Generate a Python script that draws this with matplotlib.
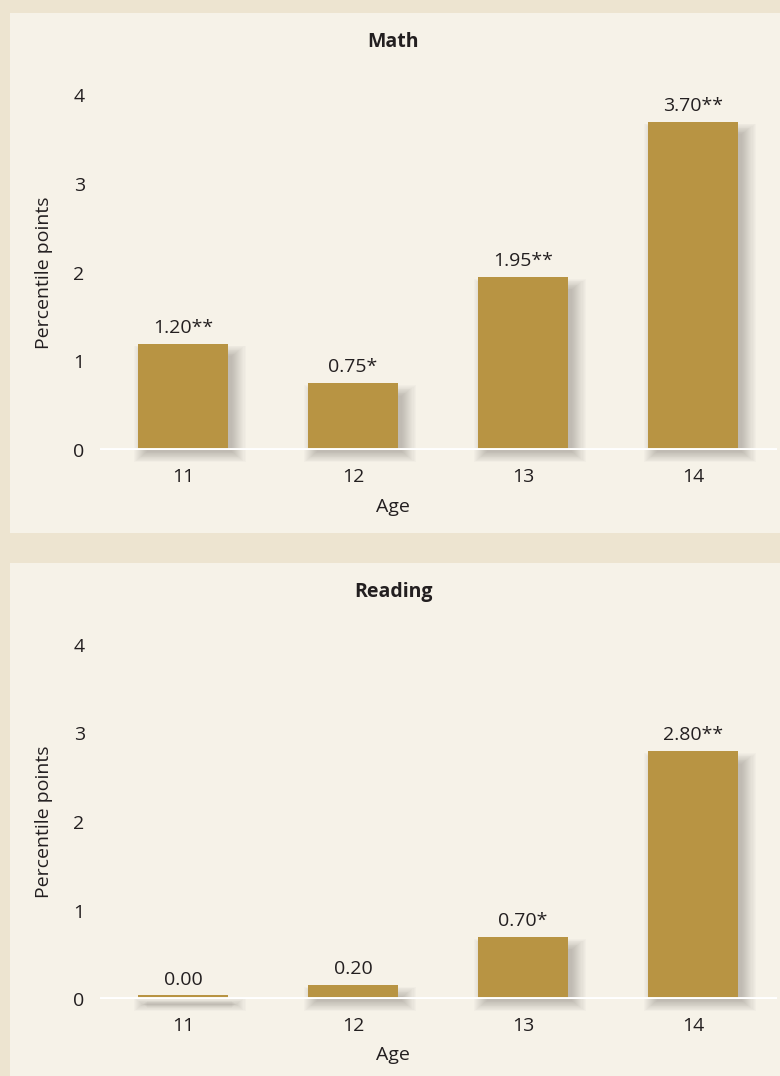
import matplotlib.pyplot as plt
from matplotlib.patches import Rectangle
import numpy as np

plt.rcParams['font.family'] = ['Open Sans', 'DejaVu Sans']

# data
ages = ['11', '12', '13', '14']
math_values = [1.20, 0.75, 1.95, 3.70]
math_labels = ['1.20**', '0.75*', '1.95**', '3.70**']
reading_values = [0.04, 0.16, 0.70, 2.80]   # bar heights as drawn
reading_labels = ['0.00', '0.20', '0.70*', '2.80**']
yticks = [0, 1, 2, 3, 4]

outer_bg = '#ede4d0'
panel_bg = '#f6f2e8'
bar_color = '#b89443'
text_color = '#231f20'

W, H = 780, 1076
fig = plt.figure(figsize=(W / 100, H / 100), dpi=100)
fig.patch.set_facecolor(outer_bg)


def px_box(x0, y0, x1, y1):
    # pixel box (top-left origin) -> figure fraction rect
    return [x0 / W, 1 - y1 / H, (x1 - x0) / W, (y1 - y0) / H]


# cream panels behind each chart
for y0, y1 in [(13, 533), (563, 1080)]:
    l, b, w, h = px_box(10, y0, 790, y1)
    fig.patches.append(Rectangle((l, b), w, h, transform=fig.transFigure,
                                 facecolor=panel_bg, edgecolor='none', zorder=-5))


def draw_panel(title, values, labels, zero_px, top_px, title_px, age_px):
    ax = fig.add_axes(px_box(100, top_px, 777, zero_px))
    ax.set_facecolor('none')
    x = np.arange(len(ages))
    heights = np.array(values)

    # soft shadow to the right of / below each bar
    for k in range(14):
        gx = 0.006 * k
        gy = 0.009 * k
        ax.bar(x + 0.04, heights - 0.12 + 2 * gy, width=0.50 + 2 * gx,
               bottom=-0.02 - gy, color='#4a4540', alpha=0.022,
               zorder=1, clip_on=False, linewidth=0)

    ax.bar(x, heights, width=0.53, color=bar_color, zorder=3, linewidth=0)
    ax.axhline(0, color='white', linewidth=2.8, zorder=4)

    for xi, h, lab in zip(x, heights, labels):
        ax.annotate(lab, (xi, h), xytext=(0, 5), textcoords='offset points',
                    ha='center', va='bottom', fontsize=14, color=text_color,
                    clip_on=False)

    ax.set_xlim(-0.488, 3.494)
    ax.set_ylim(0, 4)
    ax.set_xticks(x)
    ax.set_xticklabels(ages)
    ax.set_yticks(yticks)
    ax.tick_params(length=0, labelsize=14, colors=text_color)
    ax.tick_params(axis='x', pad=13)
    ax.tick_params(axis='y', pad=11)
    for s in ax.spines.values():
        s.set_visible(False)
    ax.set_ylabel('Percentile points', fontsize=14, color=text_color)
    ax.yaxis.set_label_coords(-0.07, 0.5)

    fig.text(393 / W, 1 - title_px / H, title, ha='center', va='center',
             fontsize=14, fontweight='bold', color=text_color)
    fig.text(393 / W, 1 - age_px / H, 'Age', ha='center', va='center',
             fontsize=14, color=text_color)


draw_panel('Math', math_values, math_labels, 450, 95, 42, 507)
draw_panel('Reading', reading_values, reading_labels, 999, 645, 592, 1055)

fig.savefig('out.png', dpi=100, facecolor=outer_bg)
